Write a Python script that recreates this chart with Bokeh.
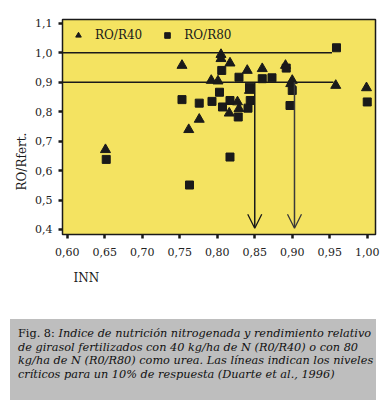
from bokeh.plotting import figure
from bokeh.layouts import column
from bokeh.models import (Range1d, FixedTicker, CustomJSTickFormatter, Title, Div,
                          Legend, LegendItem, Arrow, OpenHead)
from bokeh.embed import file_html
from bokeh.resources import INLINE

# ---- data ----
inn_r40 = [0.651, 0.753, 0.762, 0.776, 0.792, 0.801, 0.805, 0.805, 0.817, 0.816,
           0.827, 0.829, 0.840, 0.843, 0.860, 0.891, 0.898, 0.900, 0.958, 0.999]
ro_r40 = [0.671, 0.957, 0.739, 0.774, 0.906, 0.904, 0.994, 0.980, 0.965, 0.795,
          0.833, 0.810, 0.940, 0.872, 0.946, 0.957, 0.895, 0.906, 0.889, 0.881]

inn_r80 = [0.652, 0.753, 0.763, 0.776, 0.793, 0.806, 0.803, 0.807, 0.817, 0.817,
           0.829, 0.828, 0.843, 0.844, 0.841, 0.860, 0.873, 0.892, 0.900, 0.897,
           0.959, 1.000]
ro_r80 = [0.638, 0.841, 0.551, 0.829, 0.835, 0.940, 0.866, 0.816, 0.838, 0.646,
          0.917, 0.782, 0.883, 0.838, 0.812, 0.912, 0.915, 0.948, 0.872, 0.821,
          1.017, 0.833]

x_ticks = [0.60, 0.65, 0.70, 0.75, 0.80, 0.85, 0.90, 0.95, 1.00]
y_ticks = [0.4, 0.5, 0.6, 0.7, 0.8, 0.9, 1.0, 1.1]

ref_levels = [1.0, 0.9]          # relative yield levels (horizontal lines)
ref_line_ends = [0.953, 0.955]   # INN where the horizontal lines end
critical_inn = [0.85, 0.903]     # critical INN levels (arrows)

series_labels = ["RO/R40", "RO/R80"]
y_label = "RO/Rfert."
x_label = "INN"
caption_head = "Fig. 8:"
caption_lines = [
    "Indice de nutrición nitrogenada y rendimiento relativo",
    "de girasol fertilizados con 40 kg/ha de N (R0/R40) o con 80",
    "kg/ha de N (R0/R80) como urea. Las líneas indican los niveles",
    "críticos para un 10% de respuesta (Duarte et al., 1996)",
]

# ---- chart ----
X0, X1 = 0.5937, 1.011
Y0, Y1 = 0.383, 1.113
INK = "#1a1a1a"
SERIF = "DejaVu Serif"

p = figure(frame_width=313, frame_height=215,
           x_range=Range1d(X0, X1), y_range=Range1d(Y0, Y1),
           output_backend="svg", toolbar_location=None,
           min_border_left=62, min_border_right=12, min_border_top=19, min_border_bottom=85,
           background_fill_color="#F4E361", border_fill_color="white",
           outline_line_color=INK, outline_line_width=1.5)
p.grid.visible = False

p.xaxis.ticker = FixedTicker(ticks=x_ticks)
p.yaxis.ticker = FixedTicker(ticks=y_ticks)
p.xaxis.formatter = CustomJSTickFormatter(code="return tick.toFixed(2).replace('.', ',')")
p.yaxis.formatter = CustomJSTickFormatter(code="return tick.toFixed(1).replace('.', ',')")
for ax in (p.xaxis, p.yaxis):
    ax.axis_line_color = None
    ax.major_tick_in = 0
    ax.major_tick_out = 4
    ax.major_tick_line_width = 2.5
    ax.major_tick_line_color = INK
    ax.minor_tick_line_color = None
    ax.major_label_text_font = SERIF
    ax.major_label_text_font_size = "11px"
    ax.major_label_text_color = "#222222"
p.xaxis.major_label_standoff = 9
p.yaxis.major_label_standoff = 6

# axis titles as side titles
p.add_layout(Title(text=y_label, align="left", offset=44, standoff=8,
                   text_font=SERIF, text_font_size="12px", text_font_style="normal",
                   text_color=INK), "left")
p.add_layout(Title(text=x_label, align="left", offset=11, standoff=21,
                   text_font=SERIF, text_font_size="12px", text_font_style="normal",
                   text_color=INK), "below")

# reference lines
p.segment(x0=[X0] * len(ref_levels), y0=ref_levels, x1=ref_line_ends, y1=ref_levels,
          line_color=INK, line_width=1.5)

# arrows at critical levels
for i, xc in enumerate(critical_inn):
    col = INK if i == 0 else "#3a3a3a"
    p.add_layout(Arrow(x_start=xc, y_start=ref_levels[1], x_end=xc, y_end=0.404,
                       line_color=col, line_width=1.5,
                       end=OpenHead(size=14, line_color=col, line_width=1.3)))

r40 = p.scatter(inn_r40, ro_r40, marker="triangle", size=10,
                fill_color=INK, line_color=INK)
r80 = p.scatter(inn_r80, ro_r80, marker="square", size=8,
                fill_color=INK, line_color=INK)

legend = Legend(items=[LegendItem(label=series_labels[0], renderers=[r40]),
                       LegendItem(label=series_labels[1], renderers=[r80])],
                location="top_left", orientation="horizontal",
                background_fill_alpha=0, border_line_color=None,
                glyph_width=14, glyph_height=14, padding=4, margin=9,
                label_standoff=10, spacing=18,
                label_text_font=SERIF, label_text_font_size="12px",
                label_text_color=INK)
p.add_layout(legend)

# ---- caption box ----
cap_html = (
    '<div style="background:#BEBEBE;width:366px;height:81px;box-sizing:border-box;'
    'padding:8px 4px 0 8px;font-family:\'DejaVu Serif\';font-size:11.3px;line-height:13.7px;'
    'color:#111;white-space:nowrap;overflow:hidden;">'
    f'<span style="font-style:normal">{caption_head}</span> '
    + "<br>".join(f'<i>{t}</i>' for t in caption_lines)
    + '</div>'
)
cap = Div(text=cap_html, width=366, height=81, margin=(0, 0, 0, 10))

layout = column(p, cap, spacing=0)
open("out.html", "w").write(file_html(layout, INLINE))
